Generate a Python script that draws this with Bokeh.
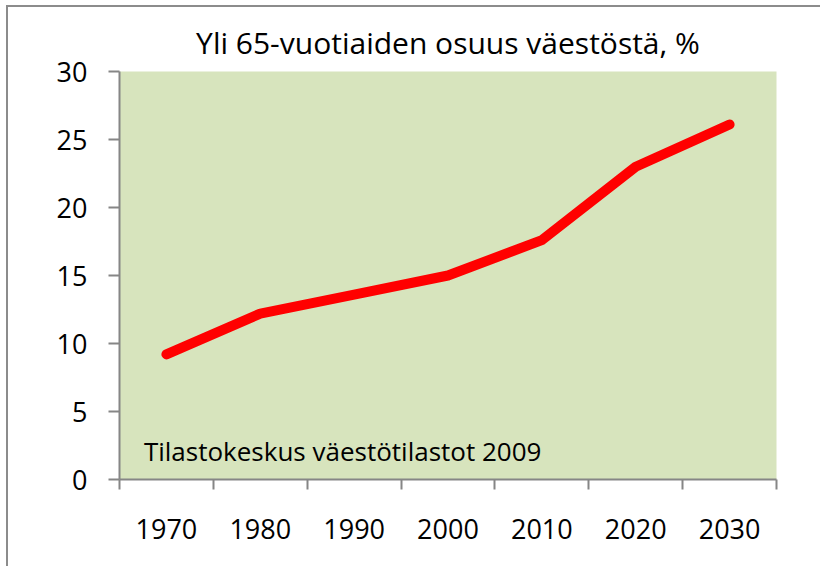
from bokeh.plotting import figure
from bokeh.models import LinearAxis, FixedTicker, Range1d, Label
from bokeh.embed import file_html
from bokeh.resources import INLINE

# Data
years = ["1970", "1980", "1990", "2000", "2010", "2020", "2030"]
share_65plus = [9.2, 12.2, 13.6, 15.0, 17.6, 23.0, 26.1]
y_ticks = [0, 5, 10, 15, 20, 25, 30]
title_text = "Yli 65-vuotiaiden osuus väestöstä, %"
source_text = "Tilastokeskus väestötilastot  2009"

xs = list(range(len(years)))
FONT = "Open Sans"
GRAY = "#868686"

p = figure(width=814, height=561, output_backend="svg", toolbar_location=None,
           x_range=Range1d(-0.5, len(years) - 0.5), y_range=Range1d(0, 30),
           x_axis_type=None, y_axis_type=None,
           min_border_left=111, min_border_right=46, min_border_top=64, min_border_bottom=89)
p.styles = {"margin-left": "6px", "margin-top": "5px",
            "border-left": "2px solid #8c8c8c", "border-top": "2px solid #8c8c8c"}
p.background_fill_color = "#D7E4BD"
p.border_fill_color = "white"
p.outline_line_color = None

p.title.text = title_text
p.title.align = "center"
p.title.offset = -6
p.title.standoff = 17
p.title.text_font = FONT
p.title.text_font_size = "30px"
p.title.text_font_style = "normal"
p.title.text_color = "black"

# y axis
yax = LinearAxis(ticker=FixedTicker(ticks=y_ticks))
yax.axis_line_color = GRAY
yax.axis_line_width = 2
yax.major_tick_line_color = GRAY
yax.major_tick_line_width = 2
yax.major_tick_in = 0
yax.major_tick_out = 11
yax.minor_tick_line_color = None
yax.major_label_text_font = FONT
yax.major_label_text_font_size = "27px"
yax.major_label_text_color = "black"
yax.major_label_standoff = 21
p.add_layout(yax, "left")

# x axis: labels at category centres, tick marks at category boundaries
bounds = [i - 0.5 for i in range(len(years) + 1)]
xax = LinearAxis(ticker=FixedTicker(ticks=xs, minor_ticks=bounds))
xax.major_label_overrides = {i: y for i, y in enumerate(years)}
xax.axis_line_color = GRAY
xax.axis_line_width = 2
xax.major_tick_line_color = None
xax.major_tick_in = 0
xax.major_tick_out = 0
xax.minor_tick_line_color = GRAY
xax.minor_tick_line_width = 2
xax.minor_tick_in = 0
xax.minor_tick_out = 10
xax.major_label_text_font = FONT
xax.major_label_text_font_size = "27px"
xax.major_label_text_color = "black"
xax.major_label_standoff = 29
p.add_layout(xax, "below")

# grid
p.ygrid.ticker = FixedTicker(ticks=y_ticks)
p.ygrid.grid_line_color = GRAY
p.ygrid.grid_line_width = 2
p.xgrid.grid_line_color = None

p.line(xs, share_65plus, line_color="#FF0000", line_width=10,
       line_cap="round", line_join="round")

p.add_layout(Label(x=-0.24, y=2.1, text=source_text, text_font=FONT,
                   text_font_size="26px", text_baseline="middle", text_color="black"))

open("out.html", "w").write(file_html(p, INLINE))
